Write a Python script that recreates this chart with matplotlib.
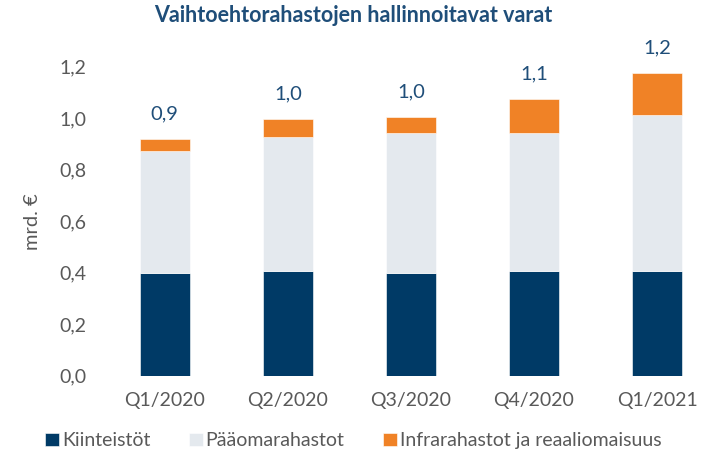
import numpy as np
import matplotlib.pyplot as plt

plt.rcParams['font.family'] = ['Lato', 'DejaVu Sans']

quarters = ['Q1/2020', 'Q2/2020', 'Q3/2020', 'Q4/2020', 'Q1/2021']
kiinteistot = [0.398, 0.406, 0.398, 0.406, 0.406]
paaoma = [0.475, 0.520, 0.543, 0.535, 0.606]
infra = [0.046, 0.070, 0.062, 0.134, 0.164]
total_labels = ['0,9', '1,0', '1,0', '1,1', '1,2']
yticks = [0.0, 0.2, 0.4, 0.6, 0.8, 1.0, 1.2]

c_dark = '#003a66'
c_light = '#e4e9ee'
c_orange = '#f08226'
c_text = '#595959'
c_blue = '#1f4e79'

fig = plt.figure(figsize=(7.07, 4.63), dpi=100)
ax = fig.add_axes([0.146, 0.1885, 0.854, 0.6675])

x = np.arange(len(quarters))
k = np.array(kiinteistot)
p = np.array(paaoma)
i = np.array(infra)
w = 0.41
ax.bar(x, k, w, color=c_dark, label='Kiinteistöt', edgecolor='white', linewidth=0.4)
ax.bar(x, p, w, bottom=k, color=c_light, label='Pääomarahastot', edgecolor='white', linewidth=0.4)
ax.bar(x, i, w, bottom=k + p, color=c_orange, label='Infrarahastot ja reaaliomaisuus', edgecolor='white', linewidth=0.4)

for xi, top, lab in zip(x, k + p + i, total_labels):
    ax.annotate(lab, (xi, top), xytext=(0, 12), textcoords='offset points',
                ha='center', va='bottom', fontsize=14.5, color=c_blue)

ax.set_xlim(-0.5, 4.406)
ax.set_ylim(0, 1.2)
ax.set_xticks(x)
ax.set_xticklabels(quarters)
ax.set_yticks(yticks)
ax.set_yticklabels([f'{v:.1f}'.replace('.', ',') for v in yticks])
ax.tick_params(axis='both', length=0, colors=c_text, labelsize=14)
ax.tick_params(axis='x', pad=12)
ax.tick_params(axis='y', pad=12)
for s in ax.spines.values():
    s.set_visible(False)
ax.set_ylabel('mrd. €', color=c_text, fontsize=14.5, labelpad=13)

fig.suptitle('Vaihtoehtorahastojen hallinnoitavat varat', x=0.5, y=0.99,
             fontsize=15.5, fontweight='bold', color=c_blue)

fig.legend(loc='center', bbox_to_anchor=(0.5, 0.048), ncol=3, frameon=False,
           handlelength=0.7, handleheight=0.7, handletextpad=0.15,
           columnspacing=2.0, fontsize=14, labelcolor=c_text)

plt.savefig('out.png', dpi=100)
